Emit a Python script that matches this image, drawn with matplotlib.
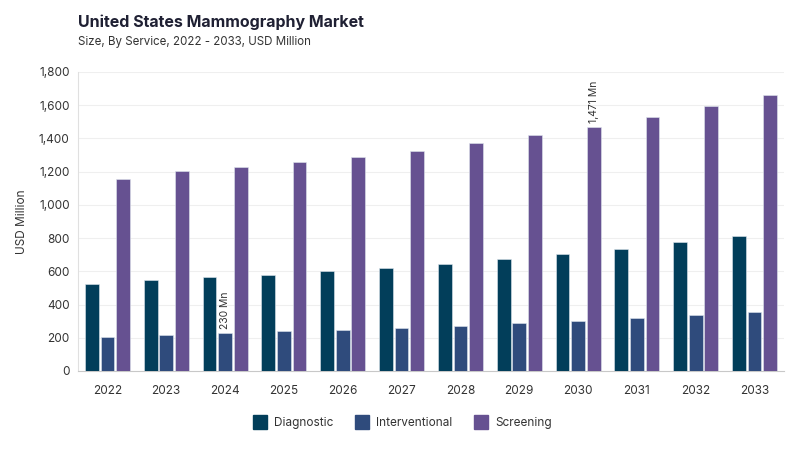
import matplotlib.pyplot as plt
import numpy as np
from matplotlib.lines import Line2D

plt.rcParams['font.family'] = ['Inter', 'DejaVu Sans']

years = ['2022', '2023', '2024', '2025', '2026', '2027',
         '2028', '2029', '2030', '2031', '2032', '2033']
diagnostic = [522, 546, 563, 580, 599, 621, 646, 673, 703, 737, 774, 815]
interventional = [207, 219, 230, 239, 249, 259, 273, 287, 303, 319, 337, 357]
screening = [1155, 1202, 1228, 1258, 1289, 1327, 1371, 1418, 1471, 1528, 1594, 1660]
series_names = ['Diagnostic', 'Interventional', 'Screening']
colors = ['#023e5a', '#2f4b7c', '#665191']

fig = plt.figure(figsize=(8, 4.5), dpi=100)
ax = fig.add_axes([0.0975, 0.1756, 0.8825, 0.6644])

x = np.arange(len(years))
w = 0.235
step = 0.265
for i, vals in enumerate([diagnostic, interventional, screening]):
    ax.bar(x + (i - 1) * step, vals, width=w, color=colors[i],
           edgecolor='#dfe6ee', linewidth=0.4, zorder=3)

# value labels
ax.text(x[2], interventional[2] + 20, f'{interventional[2]:,} Mn', rotation=90,
        ha='center', va='bottom', fontsize=7.5, color='#333333', zorder=4)
ax.text(x[8] + step, screening[8] + 20, f'{screening[8]:,} Mn', rotation=90,
        ha='center', va='bottom', fontsize=7.5, color='#333333', zorder=4)

ax.set_xlim(-0.5, 11.5)
ax.set_ylim(0, 1800)
ax.set_yticks(np.arange(0, 1801, 200))
ax.set_yticklabels([f'{v:,}' for v in range(0, 1801, 200)])
ax.set_xticks(x)
ax.set_xticklabels(years)
ax.tick_params(axis='both', length=0, labelsize=8.5, colors='#333333')
ax.tick_params(axis='x', pad=10)
ax.tick_params(axis='y', pad=6)
ax.grid(axis='y', color='#efefef', linewidth=0.8, zorder=0)
for s in ['top', 'right']:
    ax.spines[s].set_visible(False)
ax.spines['left'].set_color('#e0e0e0')
ax.spines['bottom'].set_color('#c8c8c8')
ax.set_ylabel('USD Million', fontsize=8.5, color='#333333', labelpad=8)

fig.text(0.0975, 0.951, 'United States Mammography Market', fontsize=11.5,
         fontweight='bold', color='#1f2033', va='center')
fig.text(0.0975, 0.906, 'Size, By Service, 2022 - 2033, USD Million', fontsize=8.3,
         color='#333333', va='center')

handles = [Line2D([0], [0], marker='s', linestyle='', markersize=10,
                  markerfacecolor=c, markeredgecolor=c) for c in colors]
fig.legend(handles, series_names, loc='center', bbox_to_anchor=(0.5, 0.06),
           ncol=3, frameon=False, fontsize=8.5, handletextpad=0.2,
           columnspacing=1.4, labelcolor='#333333')

fig.savefig('out.png', dpi=100)
